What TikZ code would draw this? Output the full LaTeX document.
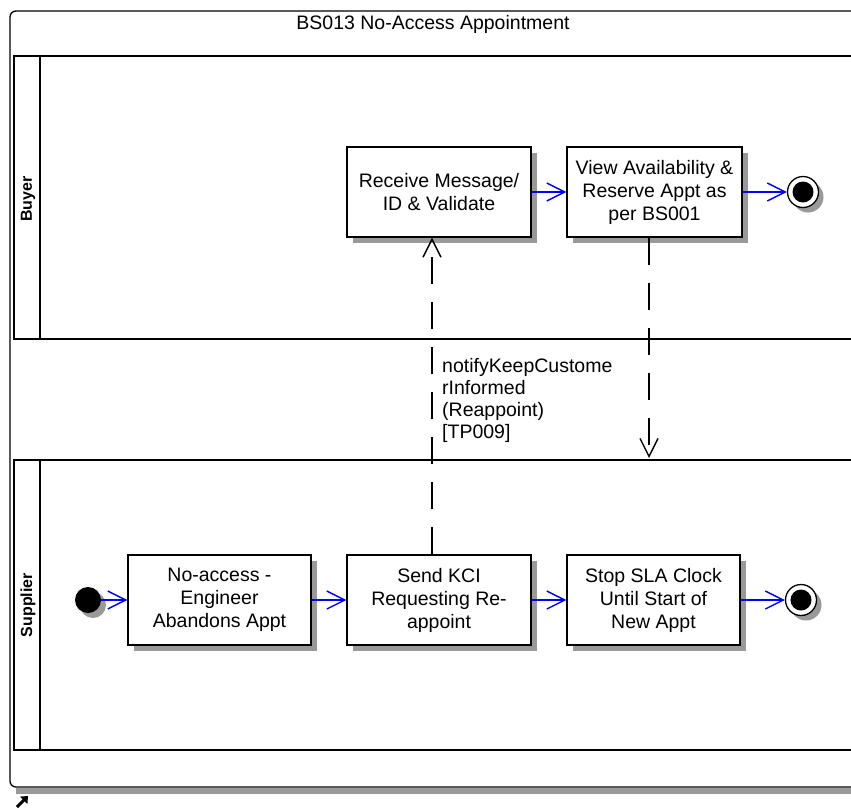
\documentclass[tikz,border=0pt]{standalone}
\usepackage{fontspec}
\setmainfont{Liberation Sans}
\usepackage{tikz}
\usetikzlibrary{arrows.meta,shadows}
\definecolor{ombra}{RGB}{153,153,153}
\definecolor{flusso}{RGB}{0,0,255}

\begin{document}
\begin{tikzpicture}[x=1pt,y=-1pt,
    att/.style={draw,line width=1.3pt,fill=white,minimum width=184pt,minimum height=90pt,
        align=center,inner sep=2pt,font=\fontsize{19.5}{23}\selectfont,
        drop shadow={shadow xshift=6pt,shadow yshift=-6pt,fill=ombra,opacity=1}},
    inizio/.style={circle,fill=black,minimum size=26pt,inner sep=0pt,
        drop shadow={shadow xshift=5pt,shadow yshift=-5pt,fill=ombra,opacity=1}},
    fine/.style={circle,draw,line width=1.3pt,fill=white,minimum size=31pt,inner sep=0pt,
        path picture={\fill[black] (path picture bounding box.center) circle (10.5pt);},
        drop shadow={shadow xshift=5pt,shadow yshift=-5pt,fill=ombra,opacity=1}},
    corsia/.style={rotate=90,font=\fontsize{16}{18}\selectfont\bfseries,inner sep=0pt},
    flow/.style={draw=flusso,line width=1.4pt,-{Straight Barb[length=18pt,width=18pt,line width=1.4pt]}},
    msg/.style={draw,line width=1.4pt,dash pattern=on 27pt off 18pt,
        -{Straight Barb[length=18pt,width=18pt,line width=1.4pt,sep=0pt]}}]
    \useasboundingbox (0,0) rectangle (851,807);
    %cornice
    \fill[ombra] (16,788) rectangle (851,794);
    \draw[line width=1.3pt,rounded corners=6pt] (853,11) -- (10,11) -- (10,787) -- (853,787);
    \node[font=\fontsize{19.5}{21}\selectfont] (titolo) at (433,24) {BS013 No-Access Appointment};
    \draw[line width=3pt,-{Triangle[length=6pt,width=10pt]}] (17,807) -- (28,796);
    %corsie
    \draw[line width=1.3pt] (14,56) rectangle (40,339);
    \draw[line width=1.3pt] (40,56) -- (853,56);
    \draw[line width=1.3pt] (40,339) -- (853,339);
    \node[corsia] (buyer) at (28,199) {Buyer};
    \draw[line width=1.3pt] (14,460) rectangle (40,750);
    \draw[line width=1.3pt] (40,460) -- (853,460);
    \draw[line width=1.3pt] (40,750) -- (853,750);
    \node[corsia] (supplier) at (28,605) {Supplier};
    %attivita buyer
    \node[att] (ricevi) at (439,192) {Receive Message/\\ID \& Validate};
    \node[att,minimum width=175pt] (vedi) at (654.5,192) {View Availability \&\\Reserve Appt as\\per BS001};
    \node[fine] (fineb) at (803,192) {};
    %attivita supplier
    \node[inizio] (avvio) at (88,600) {};
    \node[att,minimum width=183pt] (noaccess) at (219.5,600) {No-access -\\Engineer\\Abandons Appt};
    \node[att] (invia) at (439,600) {Send KCI\\Requesting Re-\\appoint};
    \node[att,minimum width=173pt] (ferma) at (653.5,600) {Stop SLA Clock\\Until Start of\\New Appt};
    \node[fine] (fines) at (801,600) {};
    %frecce
    \draw[flow] (ricevi) -- (vedi);
    \draw[flow] (vedi) -- (fineb);
    \draw[flow] (avvio) -- (noaccess);
    \draw[flow] (noaccess) -- (invia);
    \draw[flow] (invia) -- (ferma);
    \draw[flow] (ferma) -- (fines);
    %messaggi
    \draw[msg] ([xshift=-7pt]invia.north) -- ([xshift=-7pt]ricevi.south);
    \coordinate (arrivo) at (649,458);
    \draw[msg] (vedi.south -| arrivo) -- (arrivo);
    \node[anchor=north west,align=left,inner sep=0pt,font=\fontsize{19.5}{22}\selectfont]
        (kci) at (442,358) {notifyKeepCustome\\rInformed\\(Reappoint)\\{[TP009]}};
\end{tikzpicture}
\end{document}
